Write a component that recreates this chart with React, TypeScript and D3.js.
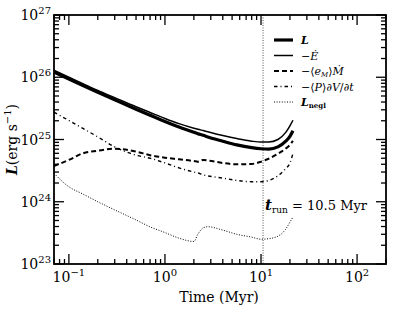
import React from 'react';
import * as d3 from 'd3';

// time grid (Myr) and luminosities (erg/s)
const time = [0.07, 0.1, 0.14, 0.2, 0.3, 0.5, 0.7, 1.0, 1.4, 2.0, 2.2, 2.5, 2.8, 4, 5.6, 8, 10, 12, 15, 18, 20, 21.5];
const lumL = [1.21e26, 9.35e25, 7.36e25, 5.73e25, 4.34e25, 3.06e25, 2.45e25, 1.95e25, 1.59e25, 1.31e25, 1.24e25, 1.17e25, 1.1e25, 9.4e24, 8.2e24, 7.4e24, 7.1e24, 7.0e24, 7.6e24, 9.3e24, 1.12e25, 1.38e25];
const negEdot = [1.3e26, 1.0e26, 7.89e25, 6.14e25, 4.7e25, 3.36e25, 2.72e25, 2.18e25, 1.8e25, 1.52e25, 1.46e25, 1.39e25, 1.33e25, 1.16e25, 1.035e25, 9.4e24, 9.1e24, 9.1e24, 1.0e25, 1.29e25, 1.66e25, 2.04e25];
const eMdot = [3.75e24, 4.7e24, 6.0e24, 6.6e24, 7.1e24, 6.4e24, 5.6e24, 5.1e24, 4.8e24, 4.5e24, 4.4e24, 4.7e24, 4.6e24, 4.2e24, 4.0e24, 4.05e24, 4.4e24, 4.9e24, 5.9e24, 7.1e24, 8.2e24, 9.5e24];
const pdVdt = [2.75e25, 2.02e25, 1.51e25, 1.1e25, 7.6e24, 5.6e24, 5.0e24, 4.2e24, 3.5e24, 3.0e24, 2.9e24, 2.7e24, 2.6e24, 2.4e24, 2.2e24, 2.1e24, 2.1e24, 2.2e24, 2.6e24, 3.4e24, 4.2e24, 6.0e24];
const lNegl = [2.86e24, 1.74e24, 1.33e24, 1.0e24, 7.4e23, 5.1e23, 3.95e23, 3.2e23, 2.6e23, 2.3e23, 3.0e23, 3.8e23, 3.97e23, 3.5e23, 3.0e23, 2.7e23, 2.5e23, 2.55e23, 2.8e23, 3.6e23, 4.7e23, 5.7e23];

const xTickLabels = ['−1', '0', '1', '2'];
const yTickLabels = ['23', '24', '25', '26', '27'];
const tRun = 10.5;

const W = 415;
const H = 312;
const M = { left: 54, right: 386, top: 15, bottom: 264 };
const FONT = 'DejaVu Serif, serif';

const x = d3.scaleLog().domain([0.07, 200]).range([M.left, M.right]);
const y = d3.scaleLog().domain([1e23, 1e27]).range([M.bottom, M.top]);

const isMajor = v => Math.abs(Math.log10(v) - Math.round(Math.log10(v))) < 1e-6;

const series = [
  { vals: lumL, width: 3.2, dash: null },
  { vals: negEdot, width: 1.5, dash: null },
  { vals: eMdot, width: 2, dash: '5,3' },
  { vals: pdVdt, width: 1.4, dash: '3.5,3,1,3' },
  { vals: lNegl, width: 1, dash: '1,1.6' },
];

const legendLabels = [
  <tspan fontStyle="italic" fontWeight="bold">L</tspan>,
  <>−<tspan fontStyle="italic">Ė</tspan></>,
  <>−⟨<tspan fontStyle="italic">e</tspan><tspan fontSize="7" dy="2" fontStyle="italic">M</tspan><tspan dy="-2">⟩</tspan><tspan fontStyle="italic">Ṁ</tspan></>,
  <>−⟨<tspan fontStyle="italic">P</tspan>⟩∂<tspan fontStyle="italic">V</tspan>/∂<tspan fontStyle="italic">t</tspan></>,
  <><tspan fontStyle="italic" fontWeight="bold">L</tspan><tspan fontSize="7" dy="2" fontWeight="bold">negl</tspan></>,
];

const App = () => {
  const line = vals =>
    d3
      .line()
      .x((d, i) => x(time[i]))
      .y(d => y(d))
      .curve(d3.curveMonotoneX)(vals);

  const xTicks = x.ticks();
  const yTicks = y.ticks();

  return (
    <svg width={W} height={H} style={{ position: 'absolute', left: 0, top: 0, background: '#fff' }}>
      {/* vertical marker for t_run */}
      <line x1={x(tRun)} x2={x(tRun)} y1={M.top} y2={M.bottom} stroke="#555" strokeWidth="1" strokeDasharray="1,1.5" />

      {series.map((s, i) => (
        <path key={i} d={line(s.vals)} fill="none" stroke="#000" strokeWidth={s.width} strokeDasharray={s.dash || undefined} />
      ))}

      {/* ticks, inward on all four sides */}
      {xTicks.map((t, i) => {
        const len = isMajor(t) ? 10 : 5;
        return (
          <g key={'x' + i} stroke="#000" strokeWidth="1.3">
            <line x1={x(t)} x2={x(t)} y1={M.bottom} y2={M.bottom - len} />
            <line x1={x(t)} x2={x(t)} y1={M.top} y2={M.top + len} />
          </g>
        );
      })}
      {yTicks.map((t, i) => {
        const len = isMajor(t) ? 10 : 5;
        return (
          <g key={'y' + i} stroke="#000" strokeWidth="1.3">
            <line x1={M.left} x2={M.left + len} y1={y(t)} y2={y(t)} />
            <line x1={M.right} x2={M.right - len} y1={y(t)} y2={y(t)} />
          </g>
        );
      })}
      <rect x={M.left} y={M.top} width={M.right - M.left} height={M.bottom - M.top} fill="none" stroke="#000" strokeWidth="1.8" />

      {/* tick labels */}
      {xTickLabels.map((p, i) => (
        <text key={'xl' + i} x={x(Math.pow(10, +p.replace('−', '-')))} y={282} textAnchor="middle" fontFamily={FONT} fontSize="14">
          10<tspan fontSize="10" dy="-6">{p}</tspan>
        </text>
      ))}
      {yTickLabels.map((p, i) => (
        <text key={'yl' + i} x={M.left - 3} y={y(Math.pow(10, +p)) + 5} textAnchor="end" fontFamily={FONT} fontSize="14">
          10<tspan fontSize="10" dy="-6">{p}</tspan>
        </text>
      ))}

      {/* axis titles */}
      <text x={(x(1) + x(10)) / 2 + 6} y={302} textAnchor="middle" fontFamily={FONT} fontSize="14">
        Time (Myr)
      </text>
      <text transform={`translate(17, ${(M.top + M.bottom) / 2}) rotate(-90)`} textAnchor="middle" fontFamily={FONT} fontSize="14">
        <tspan fontStyle="italic" fontWeight="bold">L</tspan>(erg s<tspan fontSize="10" dy="-6">−1</tspan><tspan dy="6">)</tspan>
      </text>

      {/* legend */}
      {series.map((s, i) => {
        const ly = 40 + i * 15.5;
        return (
          <g key={'lg' + i}>
            <line x1={274} x2={293} y1={ly} y2={ly} stroke="#000" strokeWidth={s.width} strokeDasharray={s.dash || undefined} />
            <text x={301} y={ly + 4} fontFamily={FONT} fontSize="11">
              {legendLabels[i]}
            </text>
          </g>
        );
      })}

      {/* t_run annotation */}
      <text x={x(tRun) + 2} y={210} fontFamily={FONT} fontSize="13">
        <tspan fontStyle="italic" fontWeight="bold" fontSize="15">t</tspan>
        <tspan fontSize="9" dy="3">run</tspan>
        <tspan dy="-3"> = 10.5 Myr</tspan>
      </text>
    </svg>
  );
};

export default App;
